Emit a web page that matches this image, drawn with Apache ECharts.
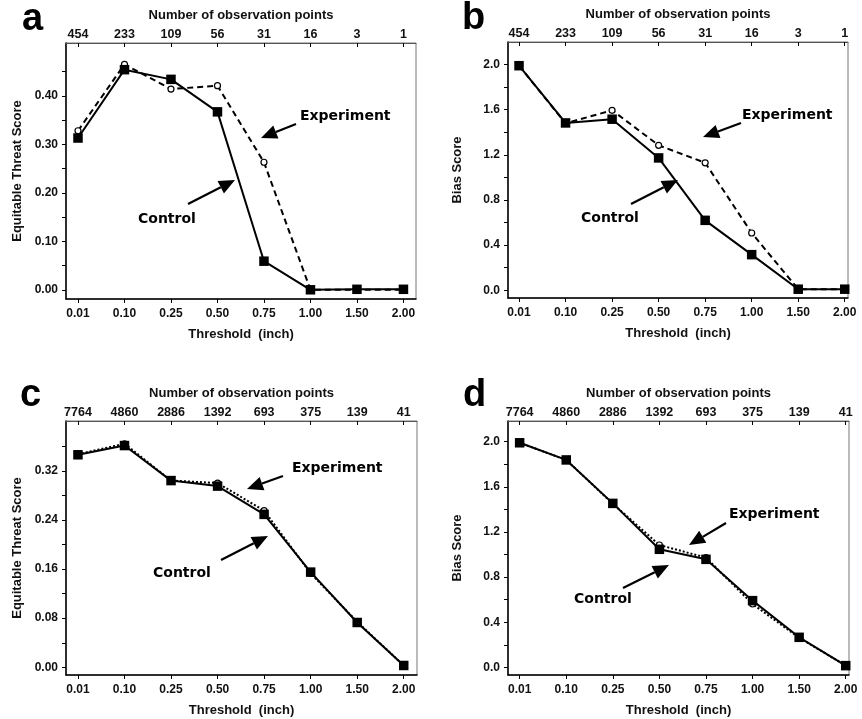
<!DOCTYPE html>
<html>
<head>
<meta charset="utf-8">
<script src="https://cdn.jsdelivr.net/npm/echarts@6/dist/echarts.min.js"></script>
<style>
  html, body { margin: 0; padding: 0; background: #fff; }
  #chart { width: 862px; height: 719px; }
</style>
</head>
<body>
<div id="chart"></div>
<script>
// thresholds (bottom axis) and number of observation points (top axis)
const thresholds = ['0.01', '0.10', '0.25', '0.50', '0.75', '1.00', '1.50', '2.00'];
const obsAB = [454, 233, 109, 56, 31, 16, 3, 1];
const obsCD = [7764, 4860, 2886, 1392, 693, 375, 139, 41];

// panel a: equitable threat score
const etsCtrlA = [0.313, 0.454, 0.434, 0.367, 0.059, 0.000, 0.001, 0.001];
const etsExpA = [0.328, 0.465, 0.414, 0.421, 0.263, 0.000, 0.000, 0.000];
// panel b: bias score
const biasCtrlB = [1.99, 1.483, 1.516, 1.173, 0.62, 0.316, 0.01, 0.01];
const biasExpB = [1.99, 1.48, 1.595, 1.285, 1.13, 0.508, 0.01, 0.01];
// panel c: equitable threat score
const etsCtrlC = [0.346, 0.361, 0.304, 0.295, 0.249, 0.155, 0.073, 0.003];
const etsExpC = [0.347, 0.364, 0.304, 0.300, 0.255, 0.153, 0.074, 0.003];
// panel d: bias score
const biasCtrlD = [1.99, 1.838, 1.453, 1.046, 0.957, 0.591, 0.266, 0.015];
const biasExpD = [1.99, 1.838, 1.45, 1.084, 0.972, 0.561, 0.262, 0.015];

// y tick labels and ticks
const etsLabelsA = [0, 0.1, 0.2, 0.3, 0.4];
const etsTicksA = [0, 0.05, 0.1, 0.15, 0.2, 0.25, 0.3, 0.35, 0.4, 0.45];
const biasLabels = [0, 0.4, 0.8, 1.2, 1.6, 2.0];
const biasTicks = [0, 0.2, 0.4, 0.6, 0.8, 1.0, 1.2, 1.4, 1.6, 1.8, 2.0];
const etsLabelsC = [0, 0.08, 0.16, 0.24, 0.32];
const etsTicksC = [0, 0.04, 0.08, 0.12, 0.16, 0.2, 0.24, 0.28, 0.32, 0.36];

const idx = thresholds.map((t, i) => i);

const panels = [
  { letter: 'a', grid: { left: 66, top: 43, width: 350, height: 256 }, xmin: -0.258, xmax: 7.27,
    ymin: -0.019, ymax: 0.509, labels: etsLabelsA, ticks: etsTicksA, digits: 2,
    yname: 'Equitable Threat Score', ynameGap: 42, obs: obsAB, ctrl: etsCtrlA, exp: etsExpA, expType: [6, 4],
    letterPos: [22, 19.6],
    expText: [300, 116], expArrow: [[296, 124], [261, 138]],
    ctrlText: [138, 219], ctrlArrow: [[188, 204], [235, 180]] },
  { letter: 'b', grid: { left: 508, top: 42, width: 340, height: 256 }, xmin: -0.237, xmax: 7.07,
    ymin: -0.068, ymax: 2.2, labels: biasLabels, ticks: biasTicks, digits: 1,
    yname: 'Bias Score', ynameGap: 44, obs: obsAB, ctrl: biasCtrlB, exp: biasExpB, expType: [6, 4],
    letterPos: [462, 18.6],
    expText: [742, 115], expArrow: [[741, 123], [703, 137]],
    ctrlText: [581, 218], ctrlArrow: [[631, 204], [678, 180]] },
  { letter: 'c', grid: { left: 66, top: 421, width: 351, height: 254 }, xmin: -0.257, xmax: 7.285,
    ymin: -0.0125, ymax: 0.401, labels: etsLabelsC, ticks: etsTicksC, digits: 2,
    yname: 'Equitable Threat Score', ynameGap: 42, obs: obsCD, ctrl: etsCtrlC, exp: etsExpC, expType: [2, 2],
    letterPos: [20, 396],
    expText: [292, 468], expArrow: [[283, 476], [247, 489]],
    ctrlText: [153, 573], ctrlArrow: [[221, 560], [268, 536]] },
  { letter: 'd', grid: { left: 508, top: 421, width: 341, height: 254 }, xmin: -0.25, xmax: 7.07,
    ymin: -0.068, ymax: 2.183, labels: biasLabels, ticks: biasTicks, digits: 1,
    yname: 'Bias Score', ynameGap: 44, obs: obsCD, ctrl: biasCtrlD, exp: biasExpD, expType: [2, 2],
    letterPos: [463, 396],
    expText: [729, 514], expArrow: [[726, 523], [689, 545]],
    ctrlText: [574, 599], ctrlArrow: [[623, 588], [669, 565]] }
];

const labelFont = { fontFamily: 'Liberation Sans', fontWeight: 'bold', color: '#111' };
const nameFont = { fontSize: 13, fontFamily: 'Liberation Sans', fontWeight: 'bold', color: '#111' };
const noteFont = 'DejaVu Sans';

const grids = [], xAxes = [], yAxes = [], series = [], graphics = [];

function arrow(tail, tip) {
  const dx = tip[0] - tail[0], dy = tip[1] - tail[1];
  const len = Math.sqrt(dx * dx + dy * dy);
  const ux = dx / len, uy = dy / len;
  const hl = 16, hw = 7;
  const bx = tip[0] - ux * hl, by = tip[1] - uy * hl;
  graphics.push({
    type: 'line', shape: { x1: tail[0], y1: tail[1], x2: bx, y2: by },
    style: { stroke: '#000', lineWidth: 2.2 }, z: 100
  });
  graphics.push({
    type: 'polygon',
    shape: { points: [tip, [bx - uy * hw, by + ux * hw], [bx + uy * hw, by - ux * hw]] },
    style: { fill: '#000' }, z: 100
  });
}

panels.forEach((p, i) => {
  grids.push(Object.assign({ show: true, borderColor: '#777', borderWidth: 1, backgroundColor: 'transparent',
    outerBoundsMode: 'none' }, p.grid));

  // bottom axis: thresholds
  xAxes.push({
    type: 'value', gridIndex: i, position: 'bottom', min: p.xmin, max: p.xmax,
    splitLine: { show: false },
    axisLine: { show: true, onZero: false, lineStyle: { color: '#000', width: 1.5 } },
    axisTick: { show: true, inside: false, length: 4, customValues: idx, lineStyle: { color: '#000' } },
    axisLabel: Object.assign({ fontSize: 12, margin: 9, customValues: idx,
      formatter: v => thresholds[Math.round(v)] }, labelFont),
    name: 'Threshold  (inch)', nameLocation: 'middle', nameGap: 29, nameMoveOverlap: false,
    nameTextStyle: nameFont
  });
  // top axis: observation counts
  xAxes.push({
    type: 'value', gridIndex: i, position: 'top', min: p.xmin, max: p.xmax,
    splitLine: { show: false },
    axisLine: { show: true, onZero: false, lineStyle: { color: '#555', width: 1 } },
    axisTick: { show: true, inside: true, length: 4, customValues: idx, lineStyle: { color: '#000' } },
    axisLabel: Object.assign({ fontSize: 12.5, margin: 2, customValues: idx,
      formatter: v => String(p.obs[Math.round(v)]) }, labelFont),
    name: 'Number of observation points', nameLocation: 'middle', nameGap: 21, nameMoveOverlap: false,
    nameTextStyle: nameFont
  });
  yAxes.push({
    type: 'value', gridIndex: i, min: p.ymin, max: p.ymax,
    splitLine: { show: false },
    axisLine: { show: true, onZero: false, lineStyle: { color: '#000', width: 1.5 } },
    axisTick: { show: true, inside: false, length: 4, customValues: p.ticks, lineStyle: { color: '#000' } },
    axisLabel: Object.assign({ fontSize: 12, margin: 8, customValues: p.labels,
      formatter: v => v.toFixed(p.digits) }, labelFont),
    name: p.yname, nameLocation: 'middle', nameGap: p.ynameGap, nameRotate: 90, nameMoveOverlap: false,
    nameTextStyle: nameFont
  });

  series.push({
    name: 'Experiment', type: 'line', xAxisIndex: 2 * i, yAxisIndex: i,
    data: p.exp.map((v, k) => [k, v]),
    symbol: 'circle', symbolSize: 6,
    itemStyle: { color: '#fff', borderColor: '#000', borderWidth: 1.2 },
    lineStyle: { color: '#000', width: 2, type: p.expType },
    z: 2, animation: false
  });
  series.push({
    name: 'Control', type: 'line', xAxisIndex: 2 * i, yAxisIndex: i,
    data: p.ctrl.map((v, k) => [k, v]),
    symbol: 'rect', symbolSize: 9.5,
    itemStyle: { color: '#000' },
    lineStyle: { color: '#000', width: 2 },
    z: 3, animation: false
  });

  graphics.push({
    type: 'text', x: p.letterPos[0], y: p.letterPos[1],
    style: { text: p.letter, font: 'bold 38px "Liberation Sans"', fill: '#000', textVerticalAlign: 'middle' }
  });
  graphics.push({
    type: 'text', x: p.expText[0], y: p.expText[1],
    style: { text: 'Experiment', font: 'bold 14px "' + noteFont + '"', fill: '#000', textVerticalAlign: 'middle' }
  });
  graphics.push({
    type: 'text', x: p.ctrlText[0], y: p.ctrlText[1],
    style: { text: 'Control', font: 'bold 14px "' + noteFont + '"', fill: '#000', textVerticalAlign: 'middle' }
  });
  arrow(p.expArrow[0], p.expArrow[1]);
  arrow(p.ctrlArrow[0], p.ctrlArrow[1]);
});

const chart = echarts.init(document.getElementById('chart'), null, { renderer: 'canvas' });
chart.setOption({
  animation: false,
  backgroundColor: '#fff',
  grid: grids,
  xAxis: xAxes,
  yAxis: yAxes,
  series: series,
  graphic: graphics
});
</script>
</body>
</html>
